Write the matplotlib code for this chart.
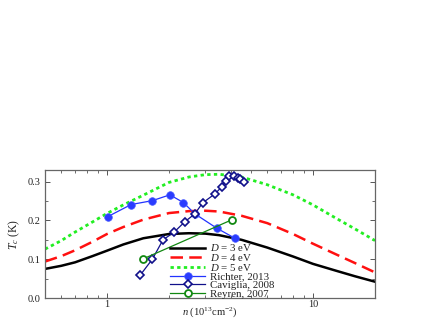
import matplotlib
matplotlib.use("Agg")
import matplotlib.pyplot as plt
from matplotlib.ticker import MultipleLocator, FixedLocator, NullFormatter

# ---- data ----
n_theory = [0.5, 0.6, 0.7, 0.85, 1.0, 1.2, 1.5, 2.0, 2.5, 3.0, 3.5, 4.5, 6.0, 8.0, 10.0, 13.0, 16.0, 20.0]
tc_d3 = [0.075, 0.083, 0.092, 0.108, 0.122, 0.138, 0.154, 0.165, 0.167, 0.166, 0.162, 0.150, 0.130, 0.107, 0.088, 0.070, 0.056, 0.042]
tc_d4 = [0.094, 0.108, 0.123, 0.145, 0.165, 0.183, 0.202, 0.219, 0.224, 0.225, 0.223, 0.212, 0.193, 0.165, 0.140, 0.112, 0.090, 0.066]
tc_d5 = [0.126, 0.148, 0.170, 0.196, 0.218, 0.240, 0.265, 0.298, 0.312, 0.318, 0.319, 0.312, 0.292, 0.266, 0.240, 0.205, 0.178, 0.148]

richter_n = [1.01, 1.31, 1.66, 2.02, 2.35, 2.67, 3.41, 4.18]
richter_tc = [0.210, 0.241, 0.251, 0.266, 0.246, 0.217, 0.180, 0.154]

caviglia_n = [1.45, 1.66, 1.87, 2.11, 2.38, 2.67, 2.91, 3.35, 3.61, 3.78, 3.92, 4.15, 4.31, 4.42, 4.64]
caviglia_tc = [0.059, 0.100, 0.150, 0.169, 0.196, 0.217, 0.245, 0.269, 0.287, 0.302, 0.314, 0.315, 0.310, 0.306, 0.300]

reyren_n = [1.50, 4.03]
reyren_tc = [0.101, 0.2015]

labels = ["$D$ = 3 eV", "$D$ = 4 eV", "$D$ = 5 eV", "Richter, 2013", "Caviglia, 2008", "Reyren, 2007"]
x_ticks = [1, 10]
x_ticklabels = ["1", "10"]
y_ticks = [0.0, 0.1, 0.2, 0.3]

# ---- style ----
plt.rcParams['font.family'] = ['Liberation Serif', 'DejaVu Serif']
plt.rcParams['mathtext.fontset'] = 'custom'
plt.rcParams['mathtext.it'] = 'Liberation Serif:italic'
plt.rcParams['mathtext.rm'] = 'Liberation Serif'

fig = plt.figure(figsize=(4.41, 3.19), dpi=100)
ax = fig.add_axes([45/441, 21/319, 330/441, 128/319])

ax.plot(n_theory, tc_d3, color='black', lw=1.8, label=labels[0])
ax.plot(n_theory, tc_d4, color='#ff1010', lw=1.8, dashes=(5, 2.5), label=labels[1])
ax.plot(n_theory, tc_d5, color='#22ee22', lw=2.0, dashes=(1.2, 1.2), label=labels[2])
ax.plot(richter_n, richter_tc, color='#2233ff', lw=0.9, marker='o', ms=5.5,
        mfc='#2a3cff', mec='#4a5cff', mew=0.5, label=labels[3])
ax.plot(caviglia_n, caviglia_tc, color='#10108a', lw=0.9, marker='D', ms=4.2,
        mfc='white', mec='#10108a', mew=1.2, label=labels[4])
ax.plot(reyren_n, reyren_tc, color='#118811', lw=0.9, marker='o', ms=5,
        mfc='white', mec='#118811', mew=1.3, label=labels[5])

ax.set_xscale('log')
ax.set_xlim(0.5, 20)
ax.set_ylim(0, 0.33)
ax.xaxis.set_major_locator(FixedLocator(x_ticks))
ax.set_xticklabels(x_ticklabels)
ax.xaxis.set_minor_formatter(NullFormatter())
ax.yaxis.set_major_locator(FixedLocator(y_ticks))
ax.set_yticklabels(["%.1f" % v for v in y_ticks])
ax.yaxis.set_minor_locator(MultipleLocator(0.05))

for s in ax.spines.values():
    s.set_color('#666666')
    s.set_linewidth(0.9)
ax.tick_params(which='both', direction='in', top=True, right=True, colors='#555555',
               labelcolor='#222222', labelsize=7.5)
ax.tick_params(axis='x', pad=1.5)
ax.tick_params(axis='y', pad=3)
ax.tick_params(which='major', length=3.5, width=0.7)
ax.tick_params(which='minor', length=2, width=0.6)

ax.set_xlabel("$n$ (10$^{13}$cm$^{-2}$)", fontsize=7.6, labelpad=-3, color='#222222')
ax.set_ylabel("$T_c$ (K)", fontsize=8.5, labelpad=4, color='#222222')

leg = ax.legend(loc='lower left', bbox_to_anchor=(0.378, -0.005), frameon=False,
                fontsize=7.8, handlelength=3.3, handletextpad=0.45,
                labelspacing=-0.1, borderpad=0.0, borderaxespad=0.0)
for t in leg.get_texts():
    t.set_color('#222222')

fig.savefig("out.png", dpi=100)
